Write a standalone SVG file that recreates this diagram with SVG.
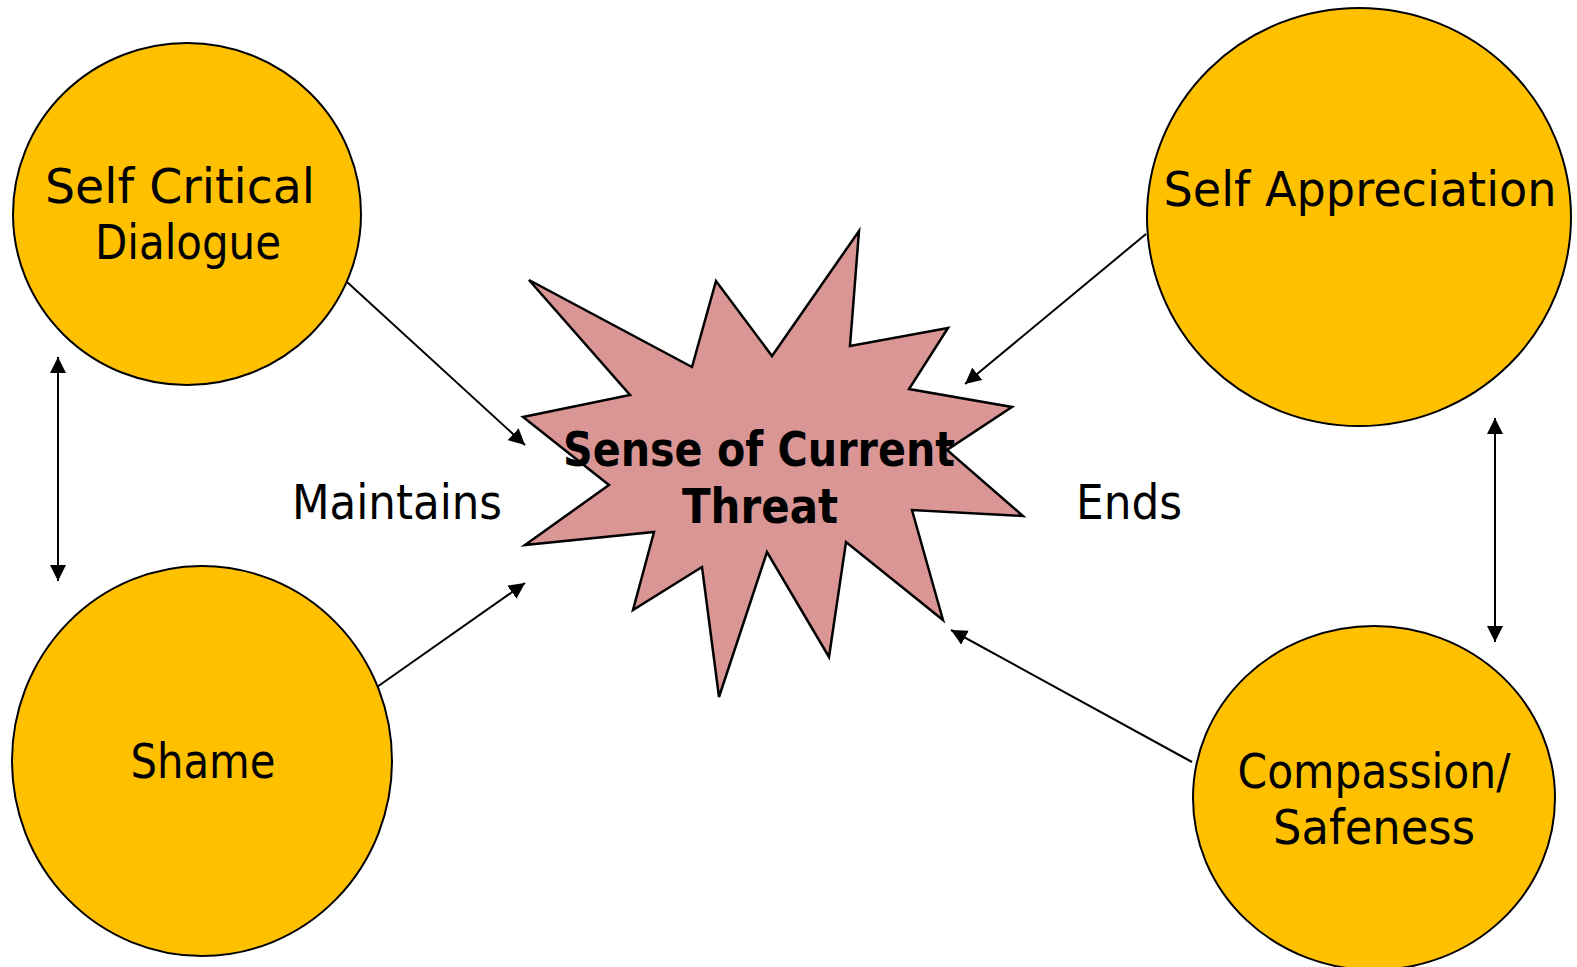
<svg xmlns="http://www.w3.org/2000/svg" width="1577" height="967" viewBox="0 0 1577 967">
<style>
.node{fill:#FFC000;stroke:#000;stroke-width:2}
.burst{fill:#D99694;stroke:#000;stroke-width:2.5;stroke-linejoin:miter}
.lbl{font-family:"DejaVu Sans","Liberation Sans",sans-serif;font-size:48px;fill:#000}
.bold{font-weight:bold}
.conn{stroke:#000;stroke-width:2;fill:none}
</style>
<defs>
<marker id="a2" viewBox="0 0 10 10" refX="10" refY="5" markerWidth="16" markerHeight="16" markerUnits="userSpaceOnUse" orient="auto-start-reverse">
<path d="M0,0 L10,5 L0,10 Z" fill="#000"/>
</marker>
</defs>
<rect width="1577" height="967" fill="#fff"/>
<g id="connectors">
<line class="conn" x1="347" y1="282" x2="525" y2="445" marker-end="url(#a2)"/>
<line class="conn" x1="377" y1="687" x2="525" y2="583" marker-end="url(#a2)"/>
<line class="conn" x1="1146" y1="234" x2="965" y2="384" marker-end="url(#a2)"/>
<line class="conn" x1="1192" y1="762" x2="951" y2="630" marker-end="url(#a2)"/>
<line class="conn" x1="58" y1="357" x2="58" y2="581" marker-start="url(#a2)" marker-end="url(#a2)"/>
<line class="conn" x1="1495" y1="418" x2="1495" y2="642" marker-start="url(#a2)" marker-end="url(#a2)"/>
</g>
<g id="self-critical">
<ellipse class="node" cx="187" cy="214" rx="174" ry="171"/>
<text class="lbl" x="180" y="203" text-anchor="middle" textLength="270" lengthAdjust="spacingAndGlyphs">Self Critical</text>
<text class="lbl" x="188" y="259" text-anchor="middle" textLength="186" lengthAdjust="spacingAndGlyphs">Dialogue</text>
</g>
<g id="shame">
<ellipse class="node" cx="202" cy="761" rx="190" ry="195"/>
<text class="lbl" x="203" y="778" text-anchor="middle" textLength="145" lengthAdjust="spacingAndGlyphs">Shame</text>
</g>
<g id="self-appreciation">
<ellipse class="node" cx="1359" cy="217" rx="212" ry="209"/>
<text class="lbl" x="1360" y="206" text-anchor="middle" textLength="393" lengthAdjust="spacingAndGlyphs">Self Appreciation</text>
</g>
<g id="compassion">
<ellipse class="node" cx="1374" cy="798" rx="181" ry="172"/>
<text class="lbl" x="1374" y="788" text-anchor="middle" textLength="273" lengthAdjust="spacingAndGlyphs">Compassion/</text>
<text class="lbl" x="1374" y="844" text-anchor="middle" textLength="202" lengthAdjust="spacingAndGlyphs">Safeness</text>
</g>
<g id="threat">
<polygon class="burst" points="529,280 692,367 716,281 772,356 859,231 850,346 948,328 909,389 1012,407 947,450 1023,516 912,510 943,620 846,542 829,657 767,552 719,697 702,567 633,610 654,532 525,545 609,485 523,417 630,395"/>
<text class="lbl bold" x="759" y="466" text-anchor="middle" textLength="392" lengthAdjust="spacingAndGlyphs">Sense of Current</text>
<text class="lbl bold" x="760" y="523" text-anchor="middle" textLength="156" lengthAdjust="spacingAndGlyphs">Threat</text>
</g>
<g id="maintains">
<text class="lbl" x="292" y="519" textLength="210" lengthAdjust="spacingAndGlyphs">Maintains</text>
</g>
<g id="ends">
<text class="lbl" x="1076" y="519" textLength="106" lengthAdjust="spacingAndGlyphs">Ends</text>
</g>
</svg>
